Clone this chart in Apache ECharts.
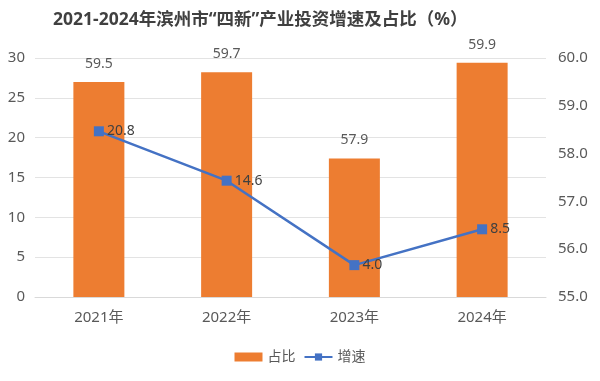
<!DOCTYPE html>
<html><head><meta charset="utf-8">
<script src="https://cdn.jsdelivr.net/npm/echarts@6/dist/echarts.min.js"></script>
<style>html,body{margin:0;padding:0;background:#fff}#c{width:600px;height:381px}</style>
</head><body><div id="c"></div>
<script>
const categories = ['2021年','2022年','2023年','2024年'];
const shareValues = [59.5, 59.7, 57.9, 59.9];   // 占比
const growthValues = [20.8, 14.6, 4.0, 8.5];    // 增速
const leftTicks = [0, 30, 5];
const rightTicks = [55, 60, 1];
const titleText = '2021-2024年滨州市“四新”产业投资增速及占比（%）';

const chart = echarts.init(document.getElementById('c'), null, {renderer:'canvas'});
const ff = '"Noto Sans", "Noto Sans CJK SC", sans-serif';
chart.setOption({
  animation: false,
  backgroundColor: '#fff',
  title: {
    text: titleText, left: 48, top: 6,
    textStyle: {fontSize: 17.5, fontWeight: 'bold', color: '#404040', fontFamily: ff}
  },
  legend: {
    bottom: 12, left: 'center', itemGap: 8, itemWidth: 28, itemHeight: 9,
    textStyle: {fontSize: 14, color: '#595959', fontFamily: ff},
    data: [{name: '占比', icon: 'rect'}, {name: '增速'}]
  },
  grid: {left: 35, right: 54, top: 58, bottom: 84},
  xAxis: {
    type: 'category', data: categories,
    axisLine: {lineStyle: {color: '#d9d9d9'}},
    axisTick: {show: false},
    axisLabel: {fontSize: 15, color: '#595959', margin: 13, fontFamily: ff}
  },
  yAxis: [
    {type: 'value', min: leftTicks[0], max: leftTicks[1], interval: leftTicks[2],
     axisLabel: {fontSize: 15, color: '#595959', margin: 10, fontFamily: ff},
     splitLine: {lineStyle: {color: '#e3e3e3'}}, axisLine: {show: false}, axisTick: {show: false}},
    {type: 'value', min: rightTicks[0], max: rightTicks[1], interval: rightTicks[2],
     axisLabel: {fontSize: 15, color: '#595959', margin: 12, fontFamily: ff, formatter: v => v.toFixed(1)},
     splitLine: {show: false}, axisLine: {show: false}, axisTick: {show: false}}
  ],
  series: [
    {name: '占比', type: 'bar', yAxisIndex: 1, data: shareValues, barWidth: 51,
     itemStyle: {color: '#ED7D31'},
     label: {show: true, position: 'top', distance: 11, fontSize: 14, color: '#595959', fontFamily: ff,
             formatter: p => p.value.toFixed(1)}},
    {name: '增速', type: 'line', yAxisIndex: 0, data: growthValues,
     symbol: 'rect', symbolSize: 10,
     lineStyle: {color: '#4472C4', width: 2.5}, itemStyle: {color: '#4472C4'},
     label: {show: true, position: 'right', distance: 3, fontSize: 14, color: '#404040', fontFamily: ff,
             formatter: p => p.value.toFixed(1)}}
  ]
});
</script></body></html>
